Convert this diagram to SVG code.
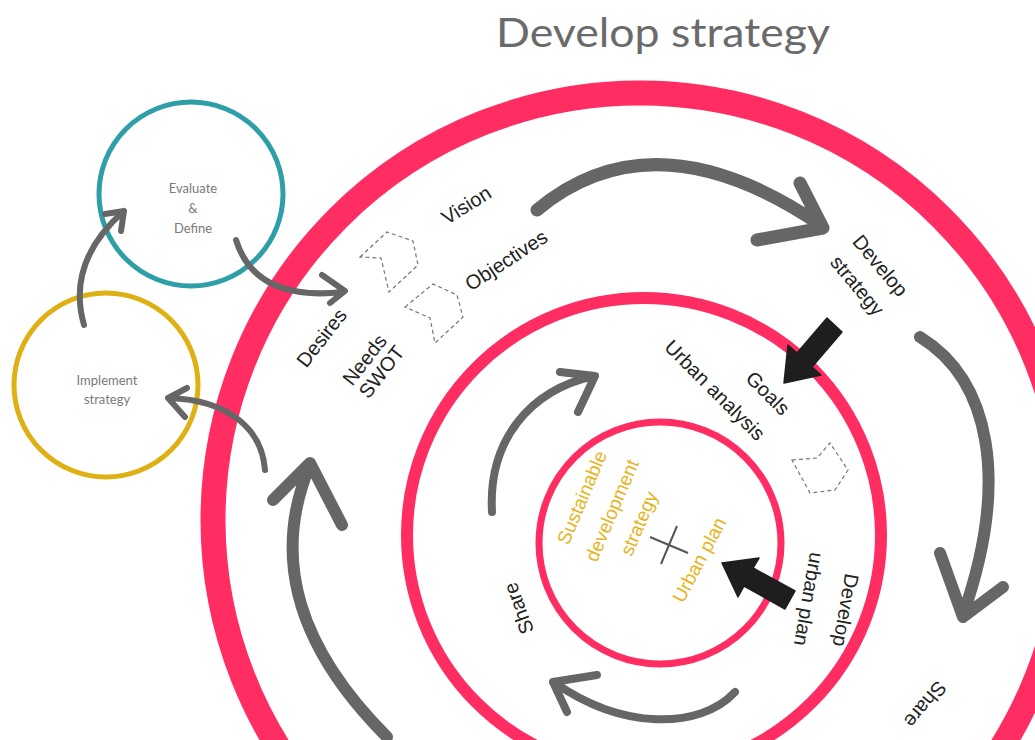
<svg xmlns="http://www.w3.org/2000/svg" width="1035" height="740" viewBox="0 0 1035 740">
<defs>
<style>
.ring{fill:none;stroke:#ff2d62}
.gar{fill:none;stroke:#666;stroke-linecap:round;stroke-linejoin:round}
.lbl{font-family:"Liberation Sans",Arial,sans-serif;font-size:20px;fill:#222;text-anchor:middle}
.ylw{font-family:"Liberation Sans",Arial,sans-serif;font-size:19px;fill:#e6b422;text-anchor:middle}
.sm{font-family:"Lato","Noto Sans",sans-serif;font-size:13px;fill:#7a7a7a;text-anchor:middle}
.pent{fill:none;stroke:#777;stroke-width:1.2;stroke-dasharray:4 3}
.blk{fill:#1e1e1e;stroke:#1e1e1e;stroke-width:1.5;stroke-linejoin:round}
</style>
</defs>
<rect width="1035" height="740" fill="#fff"/>
<text x="663" y="47" font-family="Lato,'Noto Sans',sans-serif" font-size="40" fill="#6a6a6a" text-anchor="middle" textLength="334" lengthAdjust="spacingAndGlyphs">Develop strategy</text>

<g id="outer-ring"><circle class="ring" cx="640" cy="520" r="427" stroke-width="25"/></g>
<g id="middle-ring"><circle class="ring" cx="644" cy="535" r="237" stroke-width="12"/></g>
<g id="inner-ring"><circle class="ring" cx="660" cy="543" r="121" stroke-width="7"/>
<path d="M650,537 L688,553 M677,526 L661,564" stroke="#555" stroke-width="2" fill="none"/></g>

<g id="evaluate"><circle cx="191" cy="194" r="92" fill="none" stroke="#2e9ea8" stroke-width="5"/>
<text class="sm" x="193" y="193">Evaluate</text><text class="sm" x="193" y="213">&amp;</text><text class="sm" x="193" y="233">Define</text></g>
<g id="implement"><circle cx="106" cy="385" r="92" fill="none" stroke="#deb014" stroke-width="5"/>
<text class="sm" x="107" y="385">Implement</text><text class="sm" x="107" y="404">strategy</text></g>

<g id="shapes">
<path class="pent" d="M360,257 L387,232 L413,241 L418,265 L389,292 L381,258 Z"/>
<path class="pent" d="M405,307 L433,284 L457,295 L463,317 L435,343 L430,318 Z"/>
<path class="pent" d="M792,460 L817,458 L830,443 L848,470 L835,490 L810,493 Z"/>
</g>

<g id="labels">
<text class="lbl" transform="translate(470,211) rotate(-32)">Vision</text>
<text class="lbl" transform="translate(510,266) rotate(-33)">Objectives</text>
<text class="lbl" transform="translate(327,342) rotate(-52)">Desires</text>
<text class="lbl" transform="translate(370,364) rotate(-52)">Needs</text>
<text class="lbl" transform="translate(387,376) rotate(-52)">SWOT</text>
<text class="lbl" transform="translate(875,270) rotate(50)">Develop</text>
<text class="lbl" transform="translate(852,290) rotate(50)">strategy</text>
<text class="lbl" transform="translate(763,398) rotate(45)">Goals</text>
<text class="lbl" transform="translate(710,395) rotate(45)">Urban analysis</text>
<text class="lbl" transform="translate(839,609) rotate(100)">Develop</text>
<text class="lbl" transform="translate(802,598) rotate(100)">urban plan</text>
<text class="lbl" transform="translate(525,606) rotate(-110)">Share</text>
<text class="lbl" transform="translate(920,700) rotate(130)">Share</text>
<text class="ylw" transform="translate(588,500) rotate(-67)">Sustainable</text>
<text class="ylw" transform="translate(618,513) rotate(-67)">development</text>
<text class="ylw" transform="translate(645,526) rotate(-67)">strategy</text>
<text class="ylw" transform="translate(705,563) rotate(-62)">Urban plan</text>
</g>

<g id="connectors">
<path class="gar" stroke-width="6" d="M84,325 Q66,262 124,211 M105,214 L124,211 L121,231"/>
<path class="gar" stroke-width="6" d="M236,240 C250,285 290,298 343,292 M322,275 L345,291 L330,303"/>
<path class="gar" stroke-width="6" d="M265,470 C262,430 230,400 169,398 M187,388 L168,398 L185,417"/>
<path class="gar" stroke-width="13" d="M537,210 Q655,112 822,226 M800,183 L823,228 L757,240"/>
<path class="gar" stroke-width="12" d="M920,337 C990,380 1010,480 963,615 M940,553 L963,617 L1003,587"/>
<path class="gar" stroke-width="12" d="M387,737 C300,650 270,560 310,465 M273,500 L310,463 L342,525"/>
<path class="gar" stroke-width="8" d="M492,512 C488,440 530,390 594,376 M560,372 L595,376 L578,412"/>
<path class="gar" stroke-width="8" d="M735,692 C700,730 620,730 554,682 M597,675 L553,682 L567,712"/>
<path class="blk" d="M842,332 L827,318 L797,353 L788,345 L784,383 L821,375 L812,367 Z"/>
<path class="blk" d="M795,591 L785,609 L744,586 L738,597 L722,563 L759,558 L753,568 Z"/>
</g>
</svg>
